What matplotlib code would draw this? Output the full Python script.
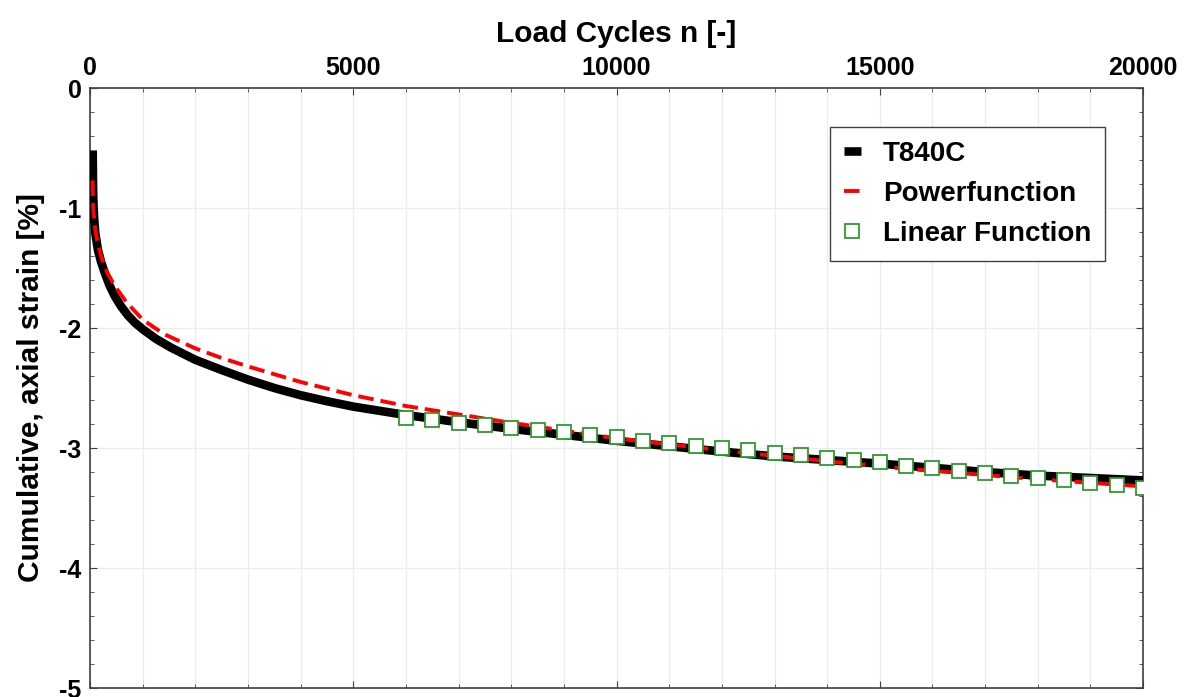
import matplotlib
matplotlib.use("Agg")
import matplotlib.pyplot as plt
from matplotlib.ticker import MultipleLocator

plt.rcParams['font.family'] = ['Liberation Sans', 'DejaVu Sans']
plt.rcParams['axes.unicode_minus'] = False

# measured test curve (T840C)
n_test = [50, 55, 60, 70, 80, 100, 150, 210, 280, 370, 470, 590, 720, 850,
          1000, 1250, 1545, 2000, 2500, 3000, 3500, 4000, 4500, 5000, 6000,
          7000, 8000, 9000, 10000, 11000, 12000, 13000, 14000, 15000, 16000,
          17000, 18000, 19000, 20000]
eps_test = [-0.52, -0.75, -0.90, -1.02, -1.10, -1.21, -1.35, -1.45, -1.54,
            -1.645, -1.735, -1.82, -1.895, -1.955, -2.01, -2.09, -2.165,
            -2.265, -2.35, -2.43, -2.50, -2.56, -2.61, -2.655, -2.725,
            -2.785, -2.84, -2.89, -2.94, -2.985, -3.03, -3.07, -3.10, -3.13,
            -3.165, -3.20, -3.23, -3.25, -3.27]

# power function fit
n_pow = [50, 60, 80, 100, 150, 215, 330, 470, 700, 1000, 1400, 2000, 2500,
         3000, 4000, 5000, 6000, 7000, 8000, 10000, 12000, 14000, 15400,
         16000, 18000, 20000]
eps_pow = [-0.77, -1.00, -1.10, -1.18, -1.30, -1.41, -1.54, -1.65, -1.79,
           -1.93, -2.05, -2.17, -2.25, -2.32, -2.45, -2.56, -2.65, -2.72,
           -2.79, -2.92, -3.02, -3.11, -3.17, -3.19, -3.26, -3.32]

# linear function
n_lin = [6000, 6500, 7000, 7500, 8000, 8500, 9000, 9500, 10000, 10500,
         11000, 11500, 12000, 12500, 13000, 13500, 14000, 14500, 15000,
         15500, 16000, 16500, 17000, 17500, 18000, 18500, 19000, 19500, 20000]
eps_lin = [-2.75, -2.77, -2.79, -2.81, -2.83, -2.85, -2.87, -2.89, -2.91,
           -2.94, -2.96, -2.98, -3.00, -3.02, -3.04, -3.06, -3.08, -3.10,
           -3.12, -3.15, -3.17, -3.19, -3.21, -3.23, -3.25, -3.27, -3.29,
           -3.31, -3.33]

fig = plt.figure(figsize=(11.88, 6.97), dpi=100)
ax = fig.add_axes([0.0758, 0.0129, 0.8864, 0.8608])

ax.plot(n_test, eps_test, color='black', lw=6.2, label='T840C', zorder=3,
        solid_capstyle='butt', solid_joinstyle='round')
ax.plot(n_pow, eps_pow, color='red', lw=2.8, dashes=(4, 1.8),
        label='Powerfunction', zorder=4)
ax.plot(n_lin, eps_lin, ls='none', marker='s', ms=10, mfc='white',
        mec='#2e9a2e', mew=1.3, label='Linear Function', zorder=5)

ax.set_xlim(0, 20000)
ax.set_ylim(-5, 0)
ax.xaxis.set_major_locator(MultipleLocator(5000))
ax.xaxis.set_minor_locator(MultipleLocator(1000))
ax.yaxis.set_major_locator(MultipleLocator(1))
ax.yaxis.set_minor_locator(MultipleLocator(0.2))

ax.xaxis.tick_top()
ax.xaxis.set_label_position('top')
ax.tick_params(which='both', direction='in', top=True, bottom=True,
               left=True, right=True, labeltop=True, labelbottom=False,
               color='#404040')
ax.tick_params(which='major', length=5, labelsize=18, pad=6)
ax.tick_params(which='minor', length=3)
for lab in ax.get_xticklabels() + ax.get_yticklabels():
    lab.set_fontweight('bold')

ax.grid(which='minor', axis='x', color='#ececec', lw=1)
ax.grid(which='major', axis='x', color='#ececec', lw=1)
ax.grid(which='major', axis='y', color='#ececec', lw=1)
ax.set_axisbelow(True)
for s in ax.spines.values():
    s.set_color('#404040')
    s.set_linewidth(1.2)

ax.set_xlabel('Load Cycles n [-]', fontsize=21.5, fontweight='bold', labelpad=10)
ax.set_ylabel('Cumulative, axial strain [%]', fontsize=21.5, fontweight='bold',
              labelpad=10)

leg = ax.legend(loc='upper right', bbox_to_anchor=(0.964, 0.935),
                borderaxespad=0, fancybox=False, framealpha=1,
                edgecolor='#404040', handlelength=0.6, handletextpad=0.8,
                labelspacing=0.5, borderpad=0.5,
                prop={'size': 20, 'weight': 'bold'})
leg.get_frame().set_linewidth(1.0)

fig.savefig('out.png', dpi=100)
